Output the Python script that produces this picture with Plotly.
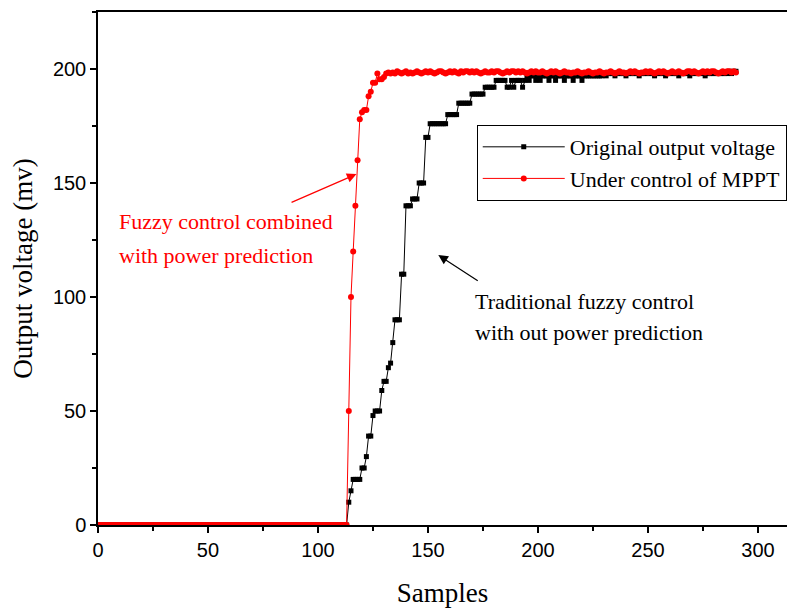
import plotly.graph_objects as go

# ---------------- data ----------------
samples = list(range(291))

original_voltage = [0] * 114 + [
    10, 15, 20, 20, 20, 20, 25, 25, 30, 39, 39, 48, 50, 50, 50, 59, 63, 63,   # 114-131
    69, 71, 80, 90, 90, 90, 110, 110, 140, 140, 140, 143, 143, 143,          # 132-145
    150, 150, 150, 170, 170,                                                  # 146-150
    176, 176, 176, 176, 176, 176, 176, 176,                                   # 151-158
    180, 180, 180, 180, 180,                                                  # 159-163
    185, 185, 185, 185, 185, 185,                                             # 164-169
    189, 189, 189, 189, 189, 189,                                             # 170-175
    192, 192, 192, 192, 192,                                                  # 176-180
    195, 195, 195, 195, 195,                                                  # 181-185
    192, 192, 195, 192, 195, 195, 195, 192, 195,                              # 186-194
    197, 195, 197, 197, 195, 197, 195, 197, 197, 197, 195, 197, 197, 195,     # 195-208
    197, 197, 197, 195, 197, 197, 197, 195, 197, 197, 197, 195, 197, 197,     # 209-222
    197, 197, 197, 197, 197, 197, 197,                                        # 223-229
    198, 197, 198, 198, 198, 197, 198, 198, 198, 198, 197, 198, 198, 198,     # 230-243
    198, 198, 197, 198, 198, 198, 198, 198, 198, 197, 198, 198, 198, 198,     # 244-257
    197, 198, 198, 198, 198, 198, 197, 198, 198, 198, 198, 197, 198, 198,     # 258-271
    198, 198, 198, 198, 197, 198, 198, 198, 198, 198, 198, 198, 198, 198,     # 272-285
    198, 199, 198, 199, 199,                                                  # 286-290
]

mppt_voltage = [0] * 114 + [
    50, 100, 120, 140, 160, 178, 181, 182, 182, 188, 190, 194, 194, 198,       # 114-127
    195.5, 195.5, 196.5, 198,                                                  # 128-131
    198.5, 198, 198.5, 198, 199, 198.5, 198, 198.5, 199, 198, 198.5, 198, 198.5, 199, 198.5, 198, 198.5, 199,
    198.5, 199, 198.5, 198, 198.5, 199, 199, 198.5, 198, 198.5, 199, 198.5, 199, 198.5, 198, 199, 198.5, 199,
    199, 198.5, 199, 198.5, 199, 198.5, 198, 198.5, 199, 198.5, 198.5, 199, 198.5, 199, 199, 198.5, 198, 198.5,
    199, 198.5, 199, 199, 198.5, 199, 198.5, 199, 198.5, 198, 198.5, 199, 198.5, 199, 198.5, 198.5, 199, 198.5,
    198, 198.5, 199, 198.5, 199, 198.5, 198, 198.5, 199, 198.5, 198.5, 198, 198.5, 198.5, 199, 198.5, 198, 198.5,
    198.5, 199, 198.5, 198, 198.5, 198.5, 199, 198.5, 198, 198.5, 198.5, 199, 198.5, 198, 198.5, 199, 198.5, 198.5,
    198, 198.5, 199, 198.5, 199, 198.5, 198, 198.5, 198.5, 199, 198.5, 199, 198.5, 198, 198.5, 199, 198.5, 199,
    198.5, 198, 198.5, 199, 198.5, 198.5, 199, 198.5, 198, 198.5, 199, 199, 198.5, 199, 198.5, 198, 198.5, 199,
    198.5, 199, 198.5, 199, 199, 198.5, 198, 198.5, 199, 198.5, 199, 199, 198.5, 199, 198.5,
]

series_names = ["Original output voltage", "Under control of MPPT"]
x_ticks = [0, 50, 100, 150, 200, 250, 300]
y_ticks = [0, 50, 100, 150, 200]

red_note = ["Fuzzy control combined", "with power prediction"]
black_note = ["Traditional fuzzy control", "with out power prediction"]

SERIF = "Liberation Serif, Times New Roman, serif"
SANS = "Liberation Sans, Arial, sans-serif"

fig = go.Figure()
fig.add_trace(go.Scatter(
    x=samples[:len(original_voltage)], y=original_voltage, name=series_names[0],
    mode="lines+markers",
    line=dict(color="black", width=1),
    marker=dict(symbol="square", size=5, color="black"),
))
fig.add_trace(go.Scatter(
    x=samples[:len(mppt_voltage)], y=mppt_voltage, name=series_names[1],
    mode="lines+markers",
    line=dict(color="#ff0000", width=1),
    marker=dict(symbol="circle", size=6, color="#ff0000"),
))

axis_common = dict(
    showline=True, linecolor="black", linewidth=1.5,
    ticks="outside", ticklen=6, tickwidth=1.5, tickcolor="black",
    showgrid=False, zeroline=False,
    tickfont=dict(family=SANS, size=20, color="black"),
)

fig.update_layout(
    width=787, height=608,
    margin=dict(l=98, r=0, t=12, b=83),
    plot_bgcolor="white", paper_bgcolor="white",
    xaxis=dict(
        range=[0, 313.2], tickvals=x_ticks, mirror=True, automargin=False,
        minor=dict(dtick=25, tick0=0, ticks="outside", ticklen=4, tickwidth=1.5, tickcolor="black", showgrid=False),
        title=dict(text="Samples", font=dict(family=SERIF, size=27, color="black"), standoff=30),
        **axis_common,
    ),
    yaxis=dict(
        range=[0, 225], tickvals=y_ticks, automargin=False,
        minor=dict(dtick=25, tick0=0, ticks="outside", ticklen=4, tickwidth=1.5, tickcolor="black", showgrid=False),
        title=dict(text="Output voltage (mv)", font=dict(family=SERIF, size=27, color="black"), standoff=12),
        **axis_common,
    ),
    legend=dict(
        x=0.5497, y=0.7797, xanchor="left", yanchor="top",
        bordercolor="black", borderwidth=1, bgcolor="white",
        font=dict(family=SERIF, size=22, color="black"),
        itemwidth=82,
    ),
    showlegend=True,
)

# text notes (one annotation per line)
for txt, yv in zip(red_note, [133.0, 118.4]):
    fig.add_annotation(x=8.6, y=yv, xref="x", yref="y", text=txt, showarrow=False,
                       xanchor="left", yanchor="middle",
                       font=dict(family=SERIF, size=22, color="#ff0000"))
for txt, yv in zip(black_note, [97.9, 84.3]):
    fig.add_annotation(x=170.5, y=yv, xref="x", yref="y", text=txt, showarrow=False,
                       xanchor="left", yanchor="middle",
                       font=dict(family=SERIF, size=22, color="black"))

# arrows
fig.add_annotation(x=117.5, y=153.9, ax=87.3, ay=141.2, xref="x", yref="y", axref="x", ayref="y",
                   text="", showarrow=True, arrowhead=2, arrowsize=1.6, arrowwidth=1.2,
                   arrowcolor="#ff0000", standoff=0)
fig.add_annotation(x=154.7, y=118.4, ax=173.3, ay=106.7, xref="x", yref="y", axref="x", ayref="y",
                   text="", showarrow=True, arrowhead=2, arrowsize=1.6, arrowwidth=1.2,
                   arrowcolor="black", standoff=0)

fig.write_html("out.html")
